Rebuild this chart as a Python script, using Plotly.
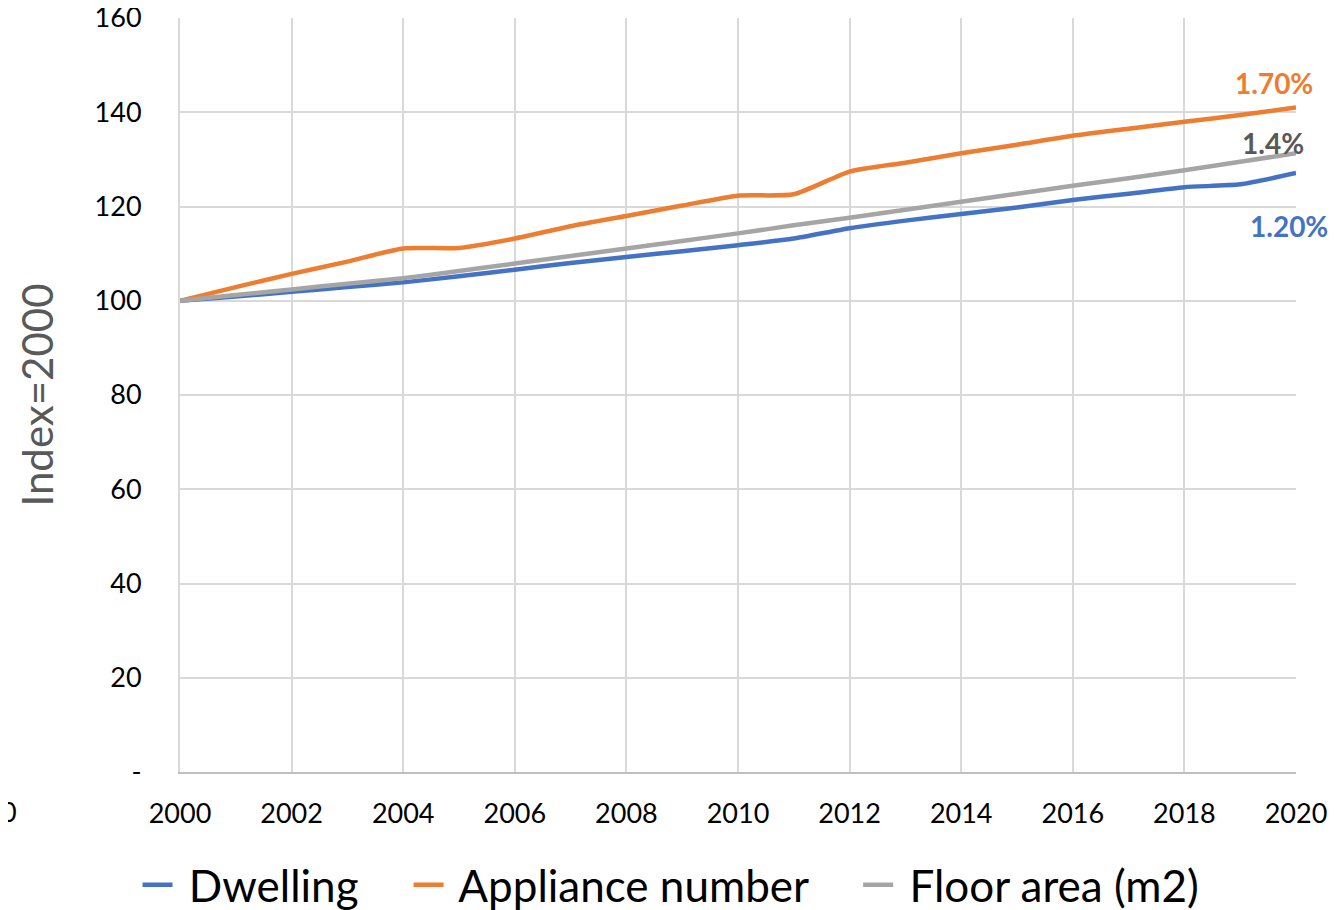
import plotly.graph_objects as go

years = list(range(2000, 2021))
dwelling = [100, 100.9, 101.9, 102.9, 103.9, 105.2, 106.6, 108.0, 109.3, 110.5, 111.8,
            113.2, 115.4, 117.0, 118.4, 119.8, 121.4, 122.7, 124.1, 124.7, 127.1]
appliance = [100, 102.9, 105.7, 108.3, 111.1, 111.2, 113.2, 115.8, 118.0, 120.2, 122.3,
             122.6, 127.4, 129.3, 131.3, 133.1, 135.0, 136.5, 138.0, 139.4, 141.0]
floor_area = [100, 101.2, 102.4, 103.6, 104.8, 106.3, 107.9, 109.5, 111.1, 112.7, 114.3,
              116.0, 117.6, 119.3, 121.0, 122.7, 124.4, 126.0, 127.7, 129.5, 131.3]
series_names = ["Dwelling", "Appliance number", "Floor area (m2)"]
end_labels = ["1.20%", "1.70%", "1.4%"]
colors = ["#4472C4", "#ED7D31", "#A5A5A5"]
label_colors = ["#4472C4", "#ED7D31", "#595959"]
y_ticks = [0, 20, 40, 60, 80, 100, 120, 140, 160]
y_ticktext = ["-", "20", "40", "60", "80", "100", "120", "140", "160"]
x_ticks = list(range(2000, 2021, 2))

FONT = "Lato, 'Open Sans', sans-serif"
NB = "\u00a0"

fig = go.Figure()
for i, (name, ys, c) in enumerate(zip(series_names, [dwelling, appliance, floor_area], colors)):
    disp = NB + name + (NB * 4 if i < 2 else "")
    fig.add_trace(go.Scatter(x=years, y=ys, name=disp, mode="lines",
                             line=dict(color=c, width=4.5, shape="spline", smoothing=0.6)))

# end labels (x position, y shift in px)
label_pos = [(2019.87, -53), (2019.6, 25), (2019.58, 10)]
for (lx, ysh), ys, txt, lc in zip(label_pos, [dwelling, appliance, floor_area], end_labels, label_colors):
    fig.add_annotation(x=lx, y=ys[-1], text=f"<b>{txt}</b>", showarrow=False,
                       yshift=ysh, xanchor="center", yanchor="middle",
                       font=dict(size=28, color=lc, family=FONT))

# cut-off label remnant at left
fig.add_annotation(xref="paper", yref="paper", x=-0.162, y=-0.053, text="0",
                   showarrow=False, xanchor="left", yanchor="middle",
                   font=dict(size=27, color="black", family=FONT))

fig.update_layout(
    width=1329, height=902,
    margin=dict(l=172, r=41, t=10, b=138, autoexpand=False),
    paper_bgcolor="white", plot_bgcolor="white",
    font=dict(family=FONT, color="black", size=27),
    showlegend=True,
    legend=dict(orientation="h", x=0.44, xanchor="center", y=-0.15, yanchor="middle",
                font=dict(size=44, family=FONT), bgcolor="rgba(0,0,0,0)",
                traceorder="normal"),
    xaxis=dict(range=[2000, 2020], tickmode="array", tickvals=x_ticks,
               showgrid=True, gridcolor="#D9D9D9", gridwidth=2,
               showline=True, linecolor="#BFBFBF", linewidth=2,
               zeroline=False, ticks="", ticklabelstandoff=17, automargin=False,
               ticklabeloverflow="allow",
               tickfont=dict(size=27, family=FONT)),
    yaxis=dict(range=[0, 160], tickmode="array", tickvals=y_ticks, ticktext=y_ticktext,
               showgrid=True, gridcolor="#D9D9D9", gridwidth=2,
               showline=True, linecolor="#D9D9D9", linewidth=2,
               zeroline=False, ticks="", ticklabelstandoff=31, automargin=False,
               ticklabeloverflow="allow",
               tickfont=dict(size=27, family=FONT),
               title=dict(text="Index=2000", standoff=28,
                          font=dict(size=42, color="#595959", family=FONT))),
)

fig.write_html("out.html")
